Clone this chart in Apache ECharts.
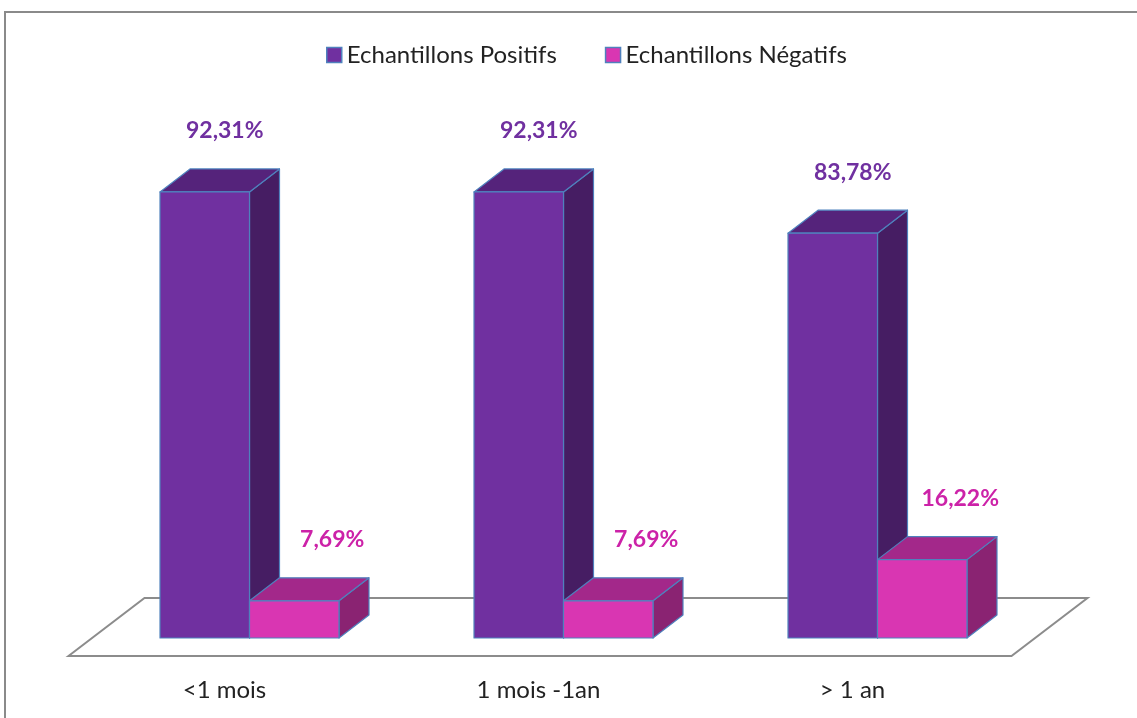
<!DOCTYPE html>
<html>
<head>
<meta charset="utf-8">
<script src="https://cdn.jsdelivr.net/npm/echarts@6/dist/echarts.min.js"></script>
<style>
  html, body { margin: 0; padding: 0; background: #fff; }
  #chart { width: 1137px; height: 718px; }
</style>
</head>
<body>
<div id="chart"></div>
<script>
// données
var categories = ['<1 mois', '1 mois -1an', '> 1 an']
var positifs = [92.31, 92.31, 83.78]
var negatifs = [7.69, 7.69, 16.22]
var seriesNames = ['Echantillons Positifs', 'Echantillons Négatifs']

// couleurs des faces (avant, dessus, côté) + étiquette
var faces = [
  { front: '#7030A0', top: '#55237B', side: '#461D63', label: '#7030A0' },
  { front: '#D936B2', top: '#A3288A', side: '#8A2372', label: '#CC22A8' }
]
var edge = '#4F81BD'
var depthX = 30, depthY = -23

function fmt(v) {
  return v.toFixed(2).replace('.', ',') + '%'
}

// barre 3D : face avant + dessus + côté
function makeRender(idx, labelDx) {
  return function (params, api) {
    var cat = api.value(0)
    var val = api.value(1)
    var base = api.coord([cat, 0])
    var top = api.coord([cat, val])
    var band = api.size([1, 0])[0]
    var w = band * 0.285
    var x0 = idx === 0 ? base[0] - w : base[0]
    var x1 = x0 + w
    var yb = base[1], yt = top[1]
    var c = faces[idx]
    var st = { stroke: edge, lineWidth: 1.2, lineJoin: 'round' }
    return {
      type: 'group',
      children: [
        {
          type: 'polygon',
          shape: { points: [[x1, yt], [x1 + depthX, yt + depthY], [x1 + depthX, yb + depthY], [x1, yb]] },
          style: Object.assign({ fill: c.side }, st)
        },
        {
          type: 'polygon',
          shape: { points: [[x0, yt], [x0 + depthX, yt + depthY], [x1 + depthX, yt + depthY], [x1, yt]] },
          style: Object.assign({ fill: c.top }, st)
        },
        {
          type: 'rect',
          shape: { x: x0, y: yt, width: w, height: yb - yt },
          style: Object.assign({ fill: c.front }, st)
        },
        {
          type: 'text',
          style: {
            text: fmt(val),
            x: (x0 + x1) / 2 + labelDx,
            y: yt + depthY - 38,
            align: 'center',
            verticalAlign: 'middle',
            fill: c.label,
            font: 'bold 23px Lato'
          }
        }
      ]
    }
  }
}

// plancher en parallélogramme sous les barres
function renderFloor(params, api) {
  var a = api.coord([0, 0])
  var b = api.coord([categories.length - 1, 0])
  var band = api.size([1, 0])[0]
  var left = a[0] - band / 2
  var right = b[0] + band / 2
  var yf = a[1] + 18, yk = a[1] - 40
  return {
    type: 'polygon',
    shape: { points: [[left - 24, yf], [left + 52, yk], [right + 53, yk], [right - 23, yf]] },
    style: { fill: '#fff', stroke: '#8c8c8c', lineWidth: 2 },
    z2: -1
  }
}

var chart = echarts.init(document.getElementById('chart'))
var option = {
  animation: false,
  backgroundColor: '#fff',
  graphic: [
    {
      type: 'rect',
      shape: { x: 5, y: 12, width: 1300, height: 900 },
      style: { fill: 'none', stroke: '#8a8a8a', lineWidth: 2 },
      silent: true
    }
  ],
  legend: {
    data: [
      { name: seriesNames[0], itemStyle: { color: faces[0].front, borderColor: edge, borderWidth: 1.5 } },
      { name: seriesNames[1], itemStyle: { color: faces[1].front, borderColor: edge, borderWidth: 1.5 } }
    ],
    top: 38,
    left: 321,
    icon: 'rect',
    itemWidth: 15,
    itemHeight: 15,
    itemGap: 48,
    textStyle: { fontFamily: 'Lato', fontSize: 24, color: '#222' }
  },
  grid: { left: 92.5, right: 102.5, top: 154.8, bottom: 80 },
  xAxis: {
    type: 'category',
    data: categories,
    axisLine: { show: false },
    axisTick: { show: false },
    axisLabel: {
      margin: 40,
      padding: [0, 50, 0, 0],
      fontFamily: 'Lato',
      fontSize: 24,
      color: '#222'
    }
  },
  yAxis: {
    type: 'value',
    min: 0,
    max: 100,
    show: false
  },
  series: [
    {
      type: 'custom',
      name: 'floor',
      renderItem: renderFloor,
      data: [[0, 0]],
      z: 1,
      silent: true
    },
    {
      type: 'custom',
      name: seriesNames[0],
      renderItem: makeRender(0, 20),
      data: positifs.map(function (v, i) { return [i, v] }),
      z: 2
    },
    {
      type: 'custom',
      name: seriesNames[1],
      renderItem: makeRender(1, 38),
      data: negatifs.map(function (v, i) { return [i, v] }),
      z: 3
    }
  ]
}
chart.setOption(option)
</script>
</body>
</html>
